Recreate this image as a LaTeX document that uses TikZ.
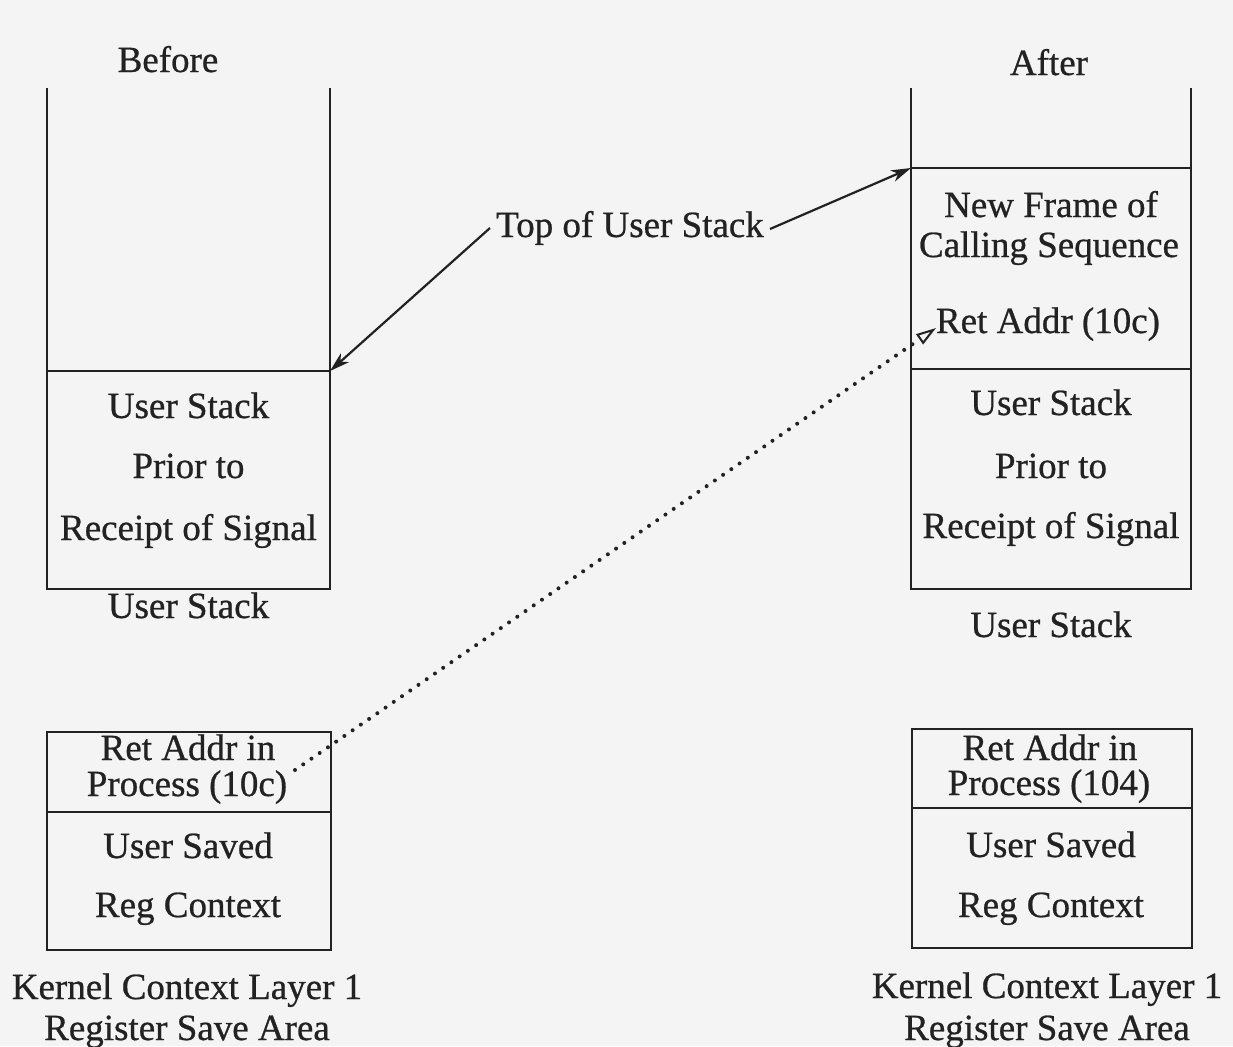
\documentclass[tikz,border=0pt]{standalone}
\usepackage{fontspec}
\setmainfont[FakeBold=0.7]{Liberation Serif}
\usetikzlibrary{arrows.meta}
\definecolor{ink}{RGB}{34,34,34}
\definecolor{paper}{RGB}{244,244,244}
\begin{document}
\begin{tikzpicture}[x=0.5pt,y=-0.5pt,
  every node/.style={font=\fontsize{18.5}{22}\selectfont,text=ink,inner sep=0pt,anchor=base},
  wall/.style={draw=ink,line width=1.4pt},
  ptr/.style={draw=ink,line width=1.1pt,-{Stealth[length=10pt,width=6pt,inset=3pt]}},
  dotted ptr/.style={draw=ink,line width=2.0pt,line cap=round,dash pattern=on 0pt off 5pt,
     -{Triangle[open,length=10pt,width=6pt,line width=1.0pt]}}]
\fill[paper] (0,0) rectangle (1233,1046);
\useasboundingbox (0,0) rectangle (1233,1046);

% ---------- Before column ----------
\coordinate (bTL) at (47,88);
\coordinate (bTR) at (330,88);
\coordinate (bML) at (47,371);
\coordinate (bMR) at (330,371);
\coordinate (bBL) at (47,589);
\coordinate (bBR) at (330,589);
\draw[wall] (bTL) -- (bBL) -- (bBR) -- (bTR);
\draw[wall] (bML) -- (bMR);

\node (before) at (168,72) {Before};
\node (bus1) at (188.5,418) {User Stack};
\node (bprior) at (188.5,478) {Prior to};
\node (brec) at (188.5,540) {Receipt of Signal};
\node (busl) at (188.5,618) {User Stack};

% ---------- After column ----------
\coordinate (aTL) at (911,88);
\coordinate (aTR) at (1191,88);
\coordinate (aFL) at (911,168);
\coordinate (aFR) at (1191,168);
\coordinate (aML) at (911,369);
\coordinate (aMR) at (1191,369);
\coordinate (aBL) at (911,589);
\coordinate (aBR) at (1191,589);
\draw[wall] (aTL) -- (aBL) -- (aBR) -- (aTR);
\draw[wall] (aFL) -- (aFR);
\draw[wall] (aML) -- (aMR);

\node (after) at (1049,75) {After};
\node (newframe) at (1051,217) {New Frame of};
\node (calling) at (1049,257) {Calling Sequence};
\node (retaddr) at (1048,333) {Ret Addr (10c)};
\node (aus1) at (1051,415) {User Stack};
\node (aprior) at (1051,478) {Prior to};
\node (arec) at (1051,538) {Receipt of Signal};
\node (ausl) at (1051,637) {User Stack};

% ---------- Top of User Stack ----------
\node (top) at (630,237) {Top of User Stack};
\coordinate (topL) at (490,228);
\coordinate (topR) at (770,229);
\draw[ptr] (topL) -- (bMR);
\draw[ptr] (topR) -- (aFL);

% ---------- Kernel boxes ----------
\draw[wall] (47,732) rectangle (331,950);
\draw[wall] (47,812) -- (331,812);
\node (kret1) at (188,760) {Ret Addr in};
\node (kproc1) at (187,796) {Process (10c)};
\node (kus1) at (188,858) {User Saved};
\node (kreg1) at (188,917) {Reg Context};
\node (kcl1) at (187,999) {Kernel Context Layer 1};
\node (krs1) at (187,1040) {Register Save Area};

\draw[wall] (912,729) rectangle (1192,948);
\draw[wall] (912,808) -- (1192,808);
\node (kret2) at (1050,760) {Ret Addr in};
\node (kproc2) at (1049,795) {Process (104)};
\node (kus2) at (1051,857) {User Saved};
\node (kreg2) at (1051,917) {Reg Context};
\node (kcl2) at (1047,998) {Kernel Context Layer 1};
\node (krs2) at (1047,1040) {Register Save Area};

% ---------- dotted link ----------
\coordinate (dstart) at (295,770);
\coordinate (dend) at (936,328);
\draw[dotted ptr] (dstart) -- (dend);
\end{tikzpicture}
\end{document}
